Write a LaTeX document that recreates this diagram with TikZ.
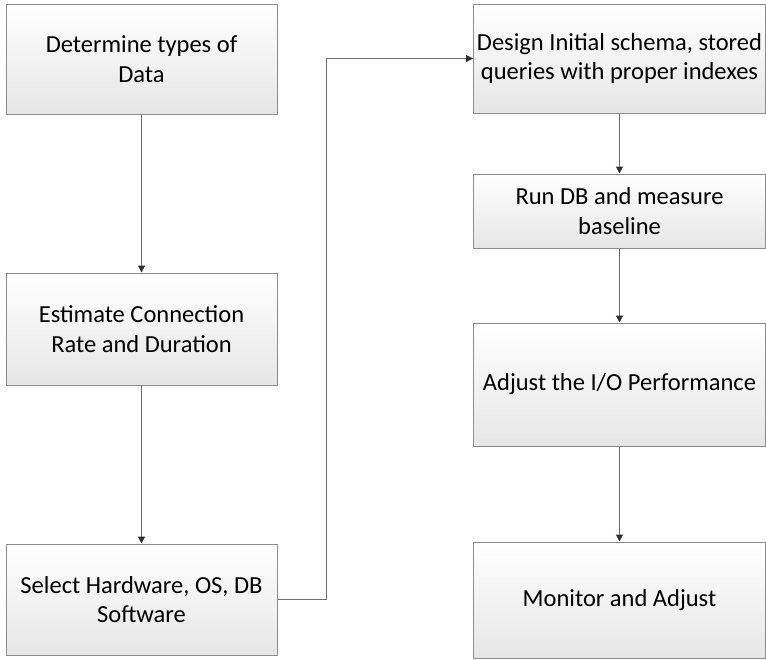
\documentclass[tikz,border=0pt]{standalone}
\usepackage{fontspec}
\setmainfont{Carlito}
\usetikzlibrary{arrows.meta,shadows}
\definecolor{boxline}{HTML}{8C8C8C}
\definecolor{boxbottom}{HTML}{E6E6E6}
\definecolor{linkgray}{HTML}{6E6E6E}
\definecolor{tipgray}{HTML}{303030}
\begin{document}
\begin{tikzpicture}[x=1pt,y=-1pt,
  stepbox/.style={draw=boxline, line width=1pt, top color=white, bottom color=boxbottom,
    align=center, inner sep=0pt, anchor=center,
    font=\fontsize{24.5}{29.5}\selectfont,
    drop shadow={opacity=0.18, shadow xshift=1pt, shadow yshift=-1.2pt}},
  leftbox/.style={stepbox, minimum width=271pt},
  rightbox/.style={stepbox, minimum width=292pt},
  link/.style={draw=linkgray, line width=1.1pt,
    -{Triangle[length=7pt,width=7pt,color=tipgray]}}]
\useasboundingbox (0,0) rectangle (766,659);

% left column
\node[leftbox, minimum height=110pt] (types) at (141.5,59) {Determine types of\\Data};
\node[leftbox, minimum height=112pt] (rate) at (141.5,329) {Estimate Connection\\Rate and Duration};
\node[leftbox, minimum height=111pt] (hw) at (141.5,599.5) {Select Hardware, OS, DB\\Software};

% right column
\node[rightbox, minimum height=109pt] (schema) at (619.5,58.5) {Design Initial schema, stored\\queries with proper indexes};
\node[rightbox, minimum height=74pt] (baseline) at (619.5,211) {Run DB and measure\\baseline};
\node[rightbox, minimum height=123pt] (io) at (619.5,384.5) {Adjust the I/O Performance};
\node[rightbox, minimum height=116pt] (monitor) at (619.5,600) {Monitor and Adjust};

% connectors
\draw[link] (types) -- (rate);
\draw[link] (rate) -- (hw);
\draw[link] (hw.east) -- ++(49,0) |- (schema.west);
\draw[link] (schema) -- (baseline);
\draw[link] (baseline) -- (io);
\draw[link] (io) -- (monitor);
\end{tikzpicture}
\end{document}
